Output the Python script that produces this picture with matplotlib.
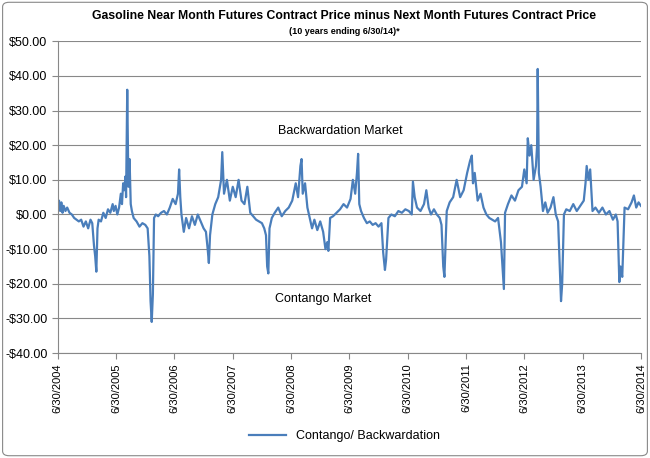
import numpy as np
import matplotlib.pyplot as plt
from matplotlib.patches import FancyBboxPatch

# decimal-year positions and spread values ($/contract)
dates = [2004.50, 2004.52, 2004.54, 2004.56, 2004.58, 2004.60, 2004.63, 2004.66, 2004.70, 2004.74,
         2004.78, 2004.82, 2004.86, 2004.90, 2004.94, 2004.98, 2005.02, 2005.06, 2005.09, 2005.12,
         2005.14, 2005.16, 2005.18, 2005.20, 2005.24, 2005.28, 2005.32, 2005.36, 2005.40, 2005.44,
         2005.46, 2005.49, 2005.52, 2005.55, 2005.58, 2005.60, 2005.62, 2005.64, 2005.66, 2005.67,
         2005.69, 2005.71, 2005.73, 2005.75, 2005.77, 2005.80, 2005.85, 2005.90, 2005.95, 2006.00,
         2006.04, 2006.07, 2006.09, 2006.11, 2006.13, 2006.15, 2006.18, 2006.22, 2006.27, 2006.32,
         2006.37, 2006.42, 2006.47, 2006.52, 2006.56, 2006.58, 2006.60, 2006.62, 2006.66, 2006.70,
         2006.75, 2006.80, 2006.85, 2006.90, 2006.95, 2007.00, 2007.04, 2007.07, 2007.09, 2007.11,
         2007.15, 2007.20, 2007.25, 2007.30, 2007.32, 2007.35, 2007.40, 2007.45, 2007.50, 2007.55,
         2007.60, 2007.65, 2007.70, 2007.75, 2007.80, 2007.85, 2007.90, 2007.95, 2008.00, 2008.04,
         2008.07, 2008.09, 2008.11, 2008.13, 2008.17, 2008.22, 2008.28, 2008.34, 2008.40, 2008.46,
         2008.52, 2008.58, 2008.62, 2008.66, 2008.68, 2008.70, 2008.74, 2008.78, 2008.82, 2008.86,
         2008.90, 2008.95, 2009.00, 2009.05, 2009.09, 2009.12, 2009.14, 2009.17, 2009.22, 2009.28,
         2009.34, 2009.40, 2009.46, 2009.52, 2009.56, 2009.60, 2009.63, 2009.65, 2009.67, 2009.70,
         2009.75, 2009.80, 2009.85, 2009.90, 2009.95, 2010.00, 2010.05, 2010.08, 2010.11, 2010.13,
         2010.17, 2010.22, 2010.28, 2010.34, 2010.40, 2010.46, 2010.52, 2010.57, 2010.59, 2010.62,
         2010.66, 2010.72, 2010.78, 2010.82, 2010.86, 2010.90, 2010.95, 2011.00, 2011.05, 2011.08,
         2011.11, 2011.13, 2011.17, 2011.22, 2011.28, 2011.34, 2011.40, 2011.46, 2011.52, 2011.57,
         2011.60, 2011.62, 2011.65, 2011.70, 2011.75, 2011.80, 2011.85, 2011.90, 2011.95, 2012.00,
         2012.05, 2012.10, 2012.13, 2012.15, 2012.17, 2012.22, 2012.28, 2012.34, 2012.40, 2012.46,
         2012.50, 2012.54, 2012.56, 2012.59, 2012.62, 2012.66, 2012.70, 2012.72, 2012.73, 2012.75,
         2012.78, 2012.82, 2012.86, 2012.90, 2012.95, 2013.00, 2013.04, 2013.08, 2013.11, 2013.13,
         2013.15, 2013.18, 2013.22, 2013.28, 2013.34, 2013.40, 2013.46, 2013.52, 2013.55, 2013.57,
         2013.60, 2013.63, 2013.67, 2013.72, 2013.78, 2013.84, 2013.90, 2013.96, 2014.02, 2014.07,
         2014.10, 2014.13, 2014.15, 2014.18, 2014.22, 2014.28, 2014.34, 2014.38, 2014.42, 2014.46,
         2014.50]
spread = [2.0, 4.0, 1.0, 3.5, 0.5, 2.5, 1.0, 2.0, 0.5, 0.0,
          -1.0, -1.5, -2.0, -1.5, -3.5, -2.0, -4.0, -1.5, -2.5, -9.0,
          -12.0, -16.5, -4.0, -1.5, -2.0, 0.5, -1.0, 1.5, 0.5, 3.0,
          1.0, 2.5, 0.0, 2.0, 6.0, 3.0, 9.0, 7.0, 11.0, 5.0,
          36.0, 8.0, 16.0, 3.0, 1.0, -1.0, -2.0, -3.5, -2.5, -3.0,
          -4.0, -12.0, -25.0, -31.0, -23.0, -1.0, 0.0, -0.5, 0.5, 1.0,
          0.0, 2.0, 4.5, 3.0, 6.0, 13.0, 5.0, 0.0, -5.0, -1.0,
          -4.0, -0.5, -3.0, 0.0, -2.0, -4.0, -5.0, -10.0, -14.0, -6.0,
          0.0, 3.0, 5.0, 10.0, 18.0, 6.0, 10.0, 4.0, 8.0, 5.0,
          10.0, 4.0, 3.0, 8.0, 0.5, -0.5, -1.5, -2.0, -2.5, -4.0,
          -6.0, -15.0, -17.0, -4.0, -1.0, 0.5, 2.0, -0.5, 1.0, 2.0,
          4.0, 9.0, 5.0, 14.0, 16.0, 6.0, 9.0, 2.0, -1.0, -4.0,
          -1.5, -4.5, -2.0, -5.0, -10.0, -8.0, -10.5, -1.0, -0.5, 0.5,
          1.5, 3.0, 2.0, 4.5, 10.0, 6.0, 12.0, 17.5, 3.0, 1.0,
          -1.0, -2.5, -2.0, -3.0, -2.5, -3.5, -2.5, -11.0, -16.0, -13.0,
          -1.0, 0.0, -0.5, 1.0, 0.5, 1.5, 1.0, 0.0, 9.5, 5.0,
          2.0, 1.0, 3.0, 7.0, 2.0, 0.0, 1.5, 0.0, -1.0, -3.0,
          -15.0, -18.0, 1.0, 3.5, 5.0, 10.0, 5.0, 7.0, 12.0, 15.5,
          17.0, 9.0, 12.0, 4.0, 6.0, 2.0, 0.0, -1.0, -1.5, -2.0,
          -1.0, -8.0, -16.0, -21.5, 0.5, 3.0, 5.5, 4.0, 7.0, 8.0,
          13.0, 9.0, 22.0, 17.0, 20.0, 10.0, 14.0, 20.0, 42.0, 12.0,
          8.0, 1.0, 3.5, 0.5, 2.0, 5.0, 0.0, -2.0, -16.0, -25.0,
          -20.0, 0.0, 1.5, 1.0, 3.0, 1.0, 2.5, 4.0, 9.0, 14.0,
          10.0, 13.0, 1.0, 2.0, 0.5, 2.0, 0.0, 1.0, -1.5, 0.0,
          -2.0, -19.5, -15.0, -18.0, 2.0, 1.5, 3.5, 5.5, 2.0, 3.5,
          2.5]

years = list(range(2004, 2015))
tick_labels = ['6/30/%d' % y for y in years]
y_ticks = np.arange(-40, 51, 10)

fig = plt.figure(figsize=(6.5, 4.58), dpi=100)
plt.rcParams['font.family'] = ['Liberation Sans', 'DejaVu Sans']
fig.patches.append(FancyBboxPatch((0.004, 0.005), 0.992, 0.99, boxstyle='round,pad=0,rounding_size=0.01',
                                  transform=fig.transFigure, fill=False, edgecolor='#888888', linewidth=0.8))

ax = fig.add_axes([0.089, 0.229, 0.897, 0.681])
ax.plot(dates, spread, color='#4a7ebb', linewidth=1.6, label='Contango/ Backwardation')

ax.set_xlim(2004.5, 2014.5)
ax.set_ylim(-40, 50)
ax.set_xticks([y + 0.5 for y in years])
ax.set_xticklabels(tick_labels, rotation=90, fontsize=8)
ax.set_yticks(y_ticks)
ax.set_yticklabels(['-$%.2f' % -v if v < 0 else '$%.2f' % v for v in y_ticks], fontsize=9)
ax.grid(axis='y', color='#888888', linewidth=0.8)
ax.set_axisbelow(True)
for side in ['top', 'right']:
    ax.spines[side].set_visible(False)
ax.spines['left'].set_color('#888888')
ax.spines['bottom'].set_color('#888888')
ax.tick_params(axis='both', color='#888888', length=4)

ax.text(2009.34, 24.0, 'Backwardation Market', ha='center', va='center', fontsize=9)
ax.text(2009.05, -24.3, 'Contango Market', ha='center', va='center', fontsize=9)

fig.text(0.53, 0.958, 'Gasoline Near Month Futures Contract Price minus Next Month Futures Contract Price',
         ha='center', fontsize=8.8, fontweight='bold')
fig.text(0.53, 0.925, '(10 years ending 6/30/14)*', ha='center', fontsize=6.5, fontweight='bold')

fig.legend(loc='lower center', bbox_to_anchor=(0.53, 0.01), frameon=False, fontsize=9, handlelength=3)

fig.savefig('out.png', dpi=100)
